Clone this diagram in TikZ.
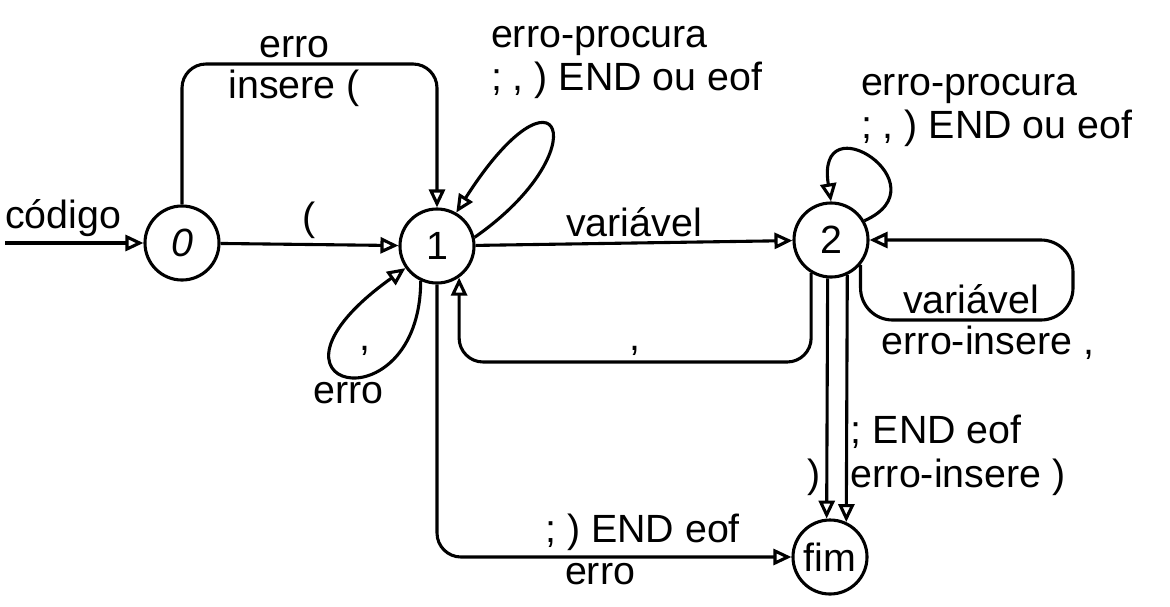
\documentclass[tikz,border=0pt]{standalone}
\usepackage{fontspec}
\setmainfont{Liberation Sans}
\usetikzlibrary{arrows.meta}

\begin{document}
\begin{tikzpicture}[
        x=0.025cm,
        y=-0.025cm,
        font=\fontsize{28}{31}\selectfont,
        state/.style={
            circle,
            draw,
            line width=2.2pt,
            minimum size=1.85cm,
            inner sep=0pt
        },
        arrow/.style={
            -{Triangle[open, length=4.5mm, width=4mm]},
            line width=2.2pt
        },
        lbl/.style={
            inner sep=2pt,
            align=left
        }
    ]

    \useasboundingbox (0,0) rectangle (1170,606);

    % --------------------------------------------------------
    % States
    % --------------------------------------------------------

    \node[state] (s0) at (182,243) {\textit{0}};

    \node[state] (s1) at (437,246) {1};

    \node[state] (s2) at (831,240) {2};

    \node[state] (fim) at (830,557) {fim};

    % helper points
    \coordinate (start) at (5,243);
    \coordinate (toprow) at (0,64);
    \coordinate (backrow) at (0,362);
    \coordinate (loopTwo) at (1073,320);

    % loop labels at the top
    \node[lbl, anchor=south west] (loopOneText) at (488,102)
        {erro-procura\\; , ) END ou eof};

    \node[lbl, anchor=south west] (loopTwoText) at (858,150)
        {erro-procura\\; , ) END ou eof};

    % --------------------------------------------------------
    % Transitions
    % --------------------------------------------------------

    % start -> 0
    \draw[arrow]
        (start)
        -- node[above, pos=0.42] {código}
        (s0);

    % 0 -> 1
    \draw[arrow]
        (s0)
        -- node[above] {(}
        (s1);

    % 0 -> 1 over the top
    \draw[arrow, rounded corners=6mm]
        (s0.north)
        -- (s0.north |- toprow)
        -- node[above, pos=0.44] {erro}
           node[below, pos=0.44] {insere (}
        (s1.north |- toprow)
        -- (s1.north);

    % 1 -> 1 (top)
    \draw[arrow]
        (s1.13)
        .. controls (600,150) and (560,50) ..
        (s1.60);

    % 1 -> 1 (bottom)
    \draw[arrow]
        (s1.245)
        .. controls (420,430) and (235,390) ..
        node[below, pos=0.5] {erro}
        node[above=0.35cm, xshift=0.4cm, pos=0.5] {,}
        (s1.215);

    % 1 -> 2
    \draw[arrow]
        (s1)
        -- node[above] {variável}
        (s2);

    % 2 -> 2 (top)
    \draw[arrow]
        (s2.30)
        .. controls (945,185) and (815,100) ..
        (s2.north);

    % 2 -> 2 (right)
    \draw[arrow, rounded corners=8mm]
        (s2.-40)
        |- node[above, pos=0.76] {variável}
           node[below, pos=0.8] {erro-insere ,}
        (loopTwo)
        |- (s2.east);

    % 2 -> 1
    \draw[arrow, rounded corners=6mm]
        (s2.239)
        -- (s2.239 |- backrow)
        -- node[above] {,}
        (s1.305 |- backrow)
        -- (s1.305);

    % 2 -> fim
    \draw[arrow]
        (s2.-95)
        -- node[left, pos=0.83] {)}
        (fim.95);

    \draw[arrow]
        (s2.-65)
        -- node[lbl, right, pos=0.73] {; END eof\\erro-insere )}
        (fim.65);

    % 1 -> fim
    \draw[arrow, rounded corners=6mm]
        (s1.south)
        |- node[above, pos=0.79] {; ) END eof}
           node[below, pos=0.73] {erro}
        (fim.west);

\end{tikzpicture}
\end{document}
